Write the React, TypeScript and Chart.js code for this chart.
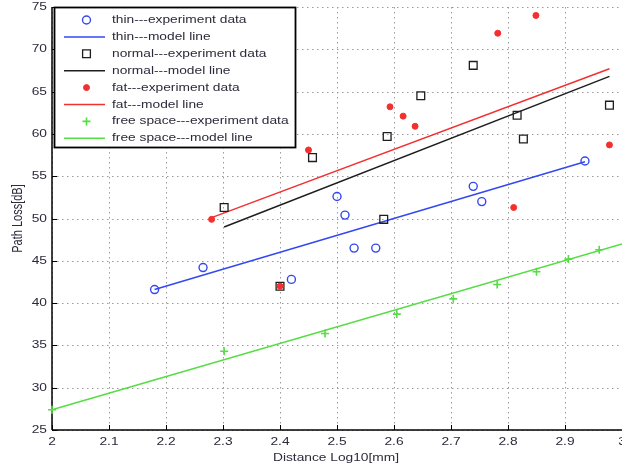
import { useEffect, useRef } from "react";
import { Chart, registerables } from "chart.js";

Chart.register(...registerables);

// Distance (log10 mm) and measured path loss (dB) for each body type
const thinDist = [2.18, 2.265, 2.42, 2.5, 2.514, 2.53, 2.568, 2.739, 2.754, 2.935];
const thinLoss = [41.6, 44.2, 42.8, 52.6, 50.4, 46.5, 46.5, 53.8, 52.0, 56.8];
const thinModelDist = [2.18, 2.935];
const thinModelLoss = [41.6, 56.7];

const normalDist = [2.302, 2.4, 2.457, 2.582, 2.588, 2.647, 2.739, 2.816, 2.827, 2.978];
const normalLoss = [51.3, 42.0, 57.2, 49.9, 59.7, 64.5, 68.1, 62.2, 59.4, 63.4];
const normalModelDist = [2.302, 2.978];
const normalModelLoss = [49.0, 66.8];

const fatDist = [2.28, 2.4, 2.45, 2.593, 2.616, 2.637, 2.782, 2.81, 2.849, 2.978];
const fatLoss = [49.9, 42.0, 58.1, 63.2, 62.1, 60.9, 71.9, 51.3, 74.0, 58.7];
const fatModelDist = [2.28, 2.978];
const fatModelLoss = [50.1, 67.7];

const freeDist = [2.0, 2.302, 2.479, 2.605, 2.704, 2.781, 2.85, 2.906, 2.96];
const freeLoss = [27.4, 34.3, 36.4, 38.7, 40.5, 42.2, 43.7, 45.2, 46.3];
const freeModelDist = [2.0, 3.0];
const freeModelLoss = [27.4, 47.0];

const xTickLabels = ["2", "2.1", "2.2", "2.3", "2.4", "2.5", "2.6", "2.7", "2.8", "2.9", "3"];
const yTickLabels = ["25", "30", "35", "40", "45", "50", "55", "60", "65", "70", "75"];

const legendLabels = [
  "thin---experiment data",
  "thin---model line",
  "normal---experiment data",
  "normal---model line",
  "fat---experiment data",
  "fat---model line",
  "free space---experiment data",
  "free space---model line",
];

const xTitle = "Distance Log10[mm]";
const yTitle = "Path Loss[dB]";

const BLUE = "#3348f0";
const BLACK = "#1e1e1e";
const RED = "#f23030";
const GREEN = "#55dd44";
const GRID = "#9a9a9a";
const TEXT = "#2b2b3b";
const FONT = '11px "Liberation Sans", Arial, sans-serif';
const TEXT_STRETCH = 1.25;

const pts = (xs: number[], ys: number[]) => xs.map((x, i) => ({ x, y: ys[i] }));

function stretchedText(
  ctx: CanvasRenderingContext2D,
  text: string,
  x: number,
  y: number,
  align: CanvasTextAlign,
  rotate = false
) {
  ctx.save();
  ctx.translate(x, y);
  ctx.scale(TEXT_STRETCH, 1);
  if (rotate) ctx.rotate(-Math.PI / 2);
  ctx.font = FONT;
  ctx.fillStyle = TEXT;
  ctx.textAlign = align;
  ctx.textBaseline = "middle";
  ctx.fillText(text, 0, 0);
  ctx.restore();
}

function drawMarker(ctx: CanvasRenderingContext2D, ds: any, x: number, y: number) {
  const r = ds.pointRadius;
  ctx.save();
  ctx.strokeStyle = ds.borderColor;
  ctx.fillStyle = ds.backgroundColor;
  ctx.lineWidth = ds.pointBorderWidth ?? 1;
  ctx.beginPath();
  if (ds.pointStyle === "circle") {
    ctx.arc(x, y, r, 0, Math.PI * 2);
    ctx.fill();
    ctx.stroke();
  } else if (ds.pointStyle === "rect") {
    const s = Math.SQRT1_2 * r;
    ctx.rect(x - s, y - s, 2 * s, 2 * s);
    ctx.stroke();
  } else if (ds.pointStyle === "cross") {
    ctx.moveTo(x - r, y);
    ctx.lineTo(x + r, y);
    ctx.moveTo(x, y - r);
    ctx.lineTo(x, y + r);
    ctx.stroke();
  }
  ctx.restore();
}

const plotDecor = {
  id: "plotDecor",
  beforeDatasetsDraw(chart: any) {
    const { ctx, chartArea: a, scales } = chart;
    const { x, y } = scales;
    const seg = (x1: number, y1: number, x2: number, y2: number) => {
      ctx.beginPath();
      ctx.moveTo(x1, y1);
      ctx.lineTo(x2, y2);
      ctx.stroke();
    };
    ctx.save();
    // dotted grid
    ctx.strokeStyle = GRID;
    ctx.lineWidth = 1;
    ctx.setLineDash([1.5, 3.5]);
    for (const t of xTickLabels) {
      const px = Math.round(x.getPixelForValue(parseFloat(t))) + 0.5;
      seg(px, a.top, px, a.bottom);
    }
    for (const t of yTickLabels) {
      const py = Math.round(y.getPixelForValue(parseFloat(t))) + 0.5;
      seg(a.left, py, a.right, py);
    }
    ctx.setLineDash([]);
    // axis lines
    ctx.strokeStyle = "#000";
    ctx.lineWidth = 1.5;
    seg(a.left, a.top, a.left, a.bottom);
    seg(a.left, a.bottom, a.right, a.bottom);
    // inward tick marks
    ctx.lineWidth = 1;
    for (const t of xTickLabels) {
      const px = Math.round(x.getPixelForValue(parseFloat(t))) + 0.5;
      seg(px, a.bottom, px, a.bottom - 5);
    }
    for (const t of yTickLabels) {
      const py = Math.round(y.getPixelForValue(parseFloat(t))) + 0.5;
      seg(a.left, py, a.left + 5, py);
    }
    ctx.restore();
  },
  afterDatasetsDraw(chart: any) {
    const { ctx } = chart;
    const datasets = chart.data.datasets;
    // legend box in the upper-left corner of the plot
    const boxL = 54.5;
    const boxT = 7.5;
    const boxR = 295.5;
    const boxB = 147.5;
    ctx.save();
    ctx.fillStyle = "#fff";
    ctx.fillRect(boxL, boxT, boxR - boxL, boxB - boxT);
    ctx.strokeStyle = "#000";
    ctx.lineWidth = 1.8;
    ctx.strokeRect(boxL, boxT, boxR - boxL, boxB - boxT);
    datasets.forEach((ds: any, i: number) => {
      const rowY = 20 + i * 16.9;
      if (ds.showLine) {
        ctx.save();
        ctx.strokeStyle = ds.borderColor;
        ctx.lineWidth = ds.borderWidth;
        ctx.beginPath();
        ctx.moveTo(64, rowY);
        ctx.lineTo(105, rowY);
        ctx.stroke();
        ctx.restore();
      } else {
        drawMarker(ctx, ds, 86.5, rowY);
      }
      stretchedText(ctx, ds.label, 112, rowY, "left");
    });
    ctx.restore();
  },
  afterDraw(chart: any) {
    const { ctx, chartArea: a, scales } = chart;
    const { x, y } = scales;
    for (const t of xTickLabels) {
      stretchedText(ctx, t, x.getPixelForValue(parseFloat(t)), a.bottom + 12, "center");
    }
    for (const t of yTickLabels) {
      stretchedText(ctx, t, a.left - 5, y.getPixelForValue(parseFloat(t)), "right");
    }
    stretchedText(ctx, xTitle, 336, a.bottom + 28, "center");
    stretchedText(ctx, yTitle, 18, (a.top + a.bottom) / 2, "center", true);
  },
};

export default function App() {
  const ref = useRef<HTMLCanvasElement>(null);

  useEffect(() => {
    const canvas = ref.current;
    if (!canvas) return;
    const marker = (
      label: string,
      xs: number[],
      ys: number[],
      style: string,
      color: string,
      radius: number,
      filled: boolean,
      width: number,
      order: number
    ) => ({
      label,
      data: pts(xs, ys),
      showLine: false,
      pointStyle: style,
      pointRadius: radius,
      pointBorderWidth: width,
      borderColor: color,
      backgroundColor: filled ? color : "rgba(0,0,0,0)",
      pointBackgroundColor: filled ? color : "rgba(0,0,0,0)",
      clip: false,
      order,
    });
    const model = (label: string, xs: number[], ys: number[], color: string, order: number) => ({
      label,
      data: pts(xs, ys),
      showLine: true,
      borderColor: color,
      backgroundColor: color,
      borderWidth: 1.5,
      pointRadius: 0,
      clip: false,
      order,
    });

    const chart = new Chart(canvas, {
      type: "scatter",
      data: {
        datasets: [
          marker(legendLabels[0], thinDist, thinLoss, "circle", BLUE, 4, false, 1.4, 3),
          model(legendLabels[1], thinModelDist, thinModelLoss, BLUE, 5),
          marker(legendLabels[2], normalDist, normalLoss, "rect", BLACK, 5.5, false, 1.3, 2),
          model(legendLabels[3], normalModelDist, normalModelLoss, BLACK, 5),
          marker(legendLabels[4], fatDist, fatLoss, "circle", RED, 3, true, 1, 1),
          model(legendLabels[5], fatModelDist, fatModelLoss, RED, 5),
          marker(legendLabels[6], freeDist, freeLoss, "cross", GREEN, 4, false, 1.6, 0),
          model(legendLabels[7], freeModelDist, freeModelLoss, GREEN, 5),
        ] as any,
      },
      options: {
        animation: false,
        responsive: false,
        devicePixelRatio: 1,
        events: [],
        layout: { autoPadding: false, padding: { left: 52, top: 7, right: -2, bottom: 38 } },
        scales: {
          x: { type: "linear", min: 2, max: 3, display: false },
          y: { type: "linear", min: 25, max: 75, display: false },
        },
        plugins: {
          legend: { display: false },
          tooltip: { enabled: false },
        },
      },
      plugins: [plotDecor],
    });
    return () => chart.destroy();
  }, []);

  return (
    <div style={{ position: "fixed", left: 0, top: 0, width: 622, height: 468, background: "#fff" }}>
      <canvas ref={ref} width={622} height={468} style={{ display: "block" }} />
    </div>
  );
}
